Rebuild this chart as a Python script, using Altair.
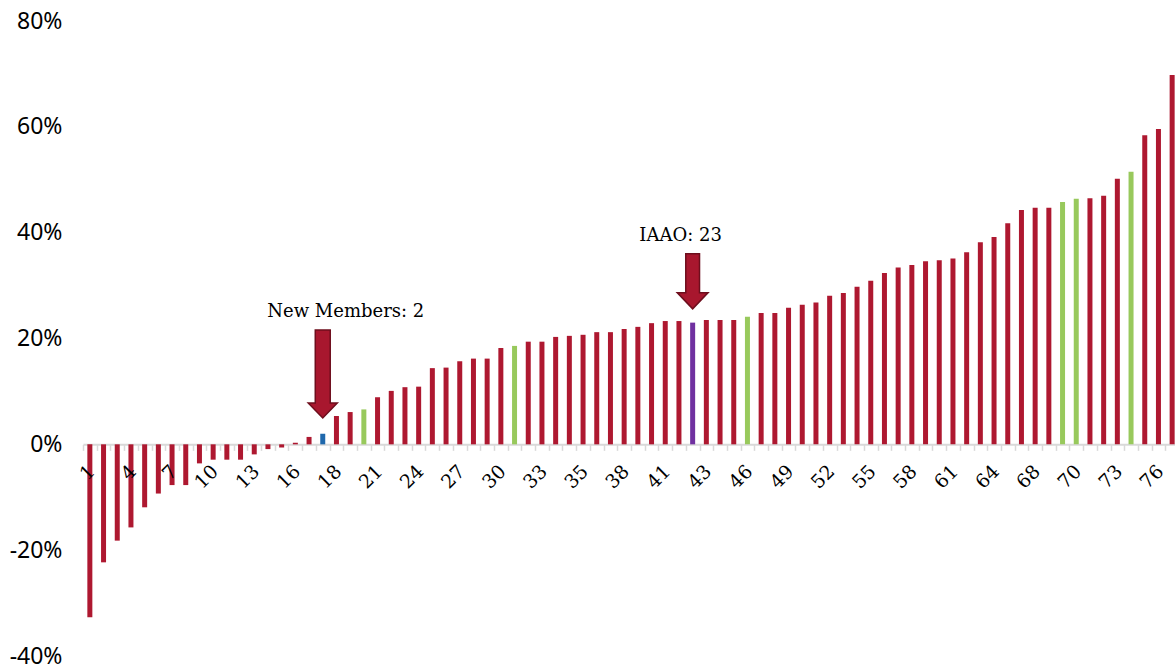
import altair as alt
import pandas as pd

# Percentage change per entity, sorted ascending (one bar per entity)
VALUES = [
    -32.7, -22.3, -18.2, -15.7, -11.9, -9.3, -7.7, -7.7, -3.6, -2.9,
    -2.9, -2.9, -1.9, -0.9, -0.6, 0.3, 1.4, 2.0, 5.35, 6.1,
    6.6, 8.9, 10.1, 10.8, 10.9, 14.4, 14.5, 15.7, 16.2, 16.2,
    18.2, 18.6, 19.4, 19.4, 20.3, 20.5, 20.7, 21.2, 21.2, 21.8,
    22.2, 22.9, 23.3, 23.3, 23.0, 23.5, 23.5, 23.5, 24.1, 24.8,
    24.8, 25.8, 26.4, 26.8, 28.1, 28.6, 29.8, 30.9, 32.4, 33.4,
    33.9, 34.6, 34.8, 35.1, 36.3, 38.2, 39.2, 41.8, 44.3, 44.7,
    44.7, 45.8, 46.4, 46.5, 47.0, 50.2, 51.5, 58.4, 59.6, 69.8,
]

# Rank labels shown on every third category
TICK_LABELS = ["1", "4", "7", "10", "13", "16", "18", "21", "24", "27",
               "30", "33", "35", "38", "41", "43", "46", "49", "52", "55",
               "58", "61", "64", "68", "70", "73", "76"]

# Highlighted bars (1-based positions)
GREEN_BARS = [21, 32, 49, 72, 73, 77]
NEW_MEMBER_BARS = [18]
IAAO_BARS = [45]

# Call-outs: text, bar position, text height and arrow centre (in % units)
ANNOT_TEXT = ["New Members: 2", "IAAO: 23"]
ANNOT_BAR = [18, 45]
ANNOT_TEXT_Y = [25.0, 39.4]
ANNOT_ARROW_Y = [13.3, 30.8]

Y_TICKS = [-40, -20, 0, 20, 40, 60, 80]

groups = []
for i in range(1, len(VALUES) + 1):
    if i in NEW_MEMBER_BARS:
        groups.append("new")
    elif i in IAAO_BARS:
        groups.append("iaao")
    elif i in GREEN_BARS:
        groups.append("green")
    else:
        groups.append("member")

df = pd.DataFrame({"idx": list(range(1, len(VALUES) + 1)), "value": VALUES, "group": groups})

# category labels sit under every third bar
labels_df = pd.DataFrame({
    "idx": [1 + 3 * k for k in range(len(TICK_LABELS))],
    "zero": [0] * len(TICK_LABELS),
    "label": TICK_LABELS,
})

N = len(VALUES)
BAND = 13.7
PLOT_W = 1092
PLOT_H = 635
Y_MIN, Y_MAX = -40, 80
# distance from the bottom of the plot up to the zero line
zero_from_bottom = PLOT_H * (0 - Y_MIN) / (Y_MAX - Y_MIN)

x_scale = alt.Scale(domain=list(range(1, N + 1)), range=[0, N * BAND],
                    paddingInner=0, paddingOuter=0)
y_scale = alt.Scale(domain=[Y_MIN, Y_MAX], nice=False, zero=False)

x_axis = alt.Axis(
    title=None, grid=False, offset=-zero_from_bottom, labels=False,
    domainColor="#D9D9D9", domainWidth=2,
    tickColor="#D9D9D9", tickWidth=1.5, tickSize=6, tickBand="extent",
)
y_axis = alt.Axis(
    title=None, values=Y_TICKS, domain=False, ticks=False, grid=False,
    labelFont="Noto Sans", labelFontSize=23, labelColor="#000000",
    labelPadding=21,
    labelExpr="(datum.value < 0 ? '-' : '') + abs(datum.value) + '%'",
)

color_scale = alt.Scale(
    domain=["member", "green", "new", "iaao"],
    range=["#AE1830", "#98C95C", "#1F68AC", "#7030A0"],
)

bars = alt.Chart(df).mark_bar(size=5).encode(
    x=alt.X("idx:O", scale=x_scale, axis=x_axis, sort=None),
    y=alt.Y("value:Q", scale=y_scale, axis=y_axis),
    color=alt.Color("group:N", scale=color_scale, legend=None),
)

# slanted category labels hanging below the zero line
cat_labels = alt.Chart(labels_df).mark_text(
    angle=315, align="right", baseline="middle",
    font="DejaVu Serif", fontSize=19, color="#000000",
    yOffset=24, xOffset=2,
).encode(x=alt.X("idx:O"), y=alt.Y("zero:Q"), text="label:N")

# Down-pointing block arrows (custom symbol paths in the [-1, 1] box)
ARROW_PATHS = [
    "M-0.17,-1L0.17,-1L0.17,0.66L0.33,0.66L0,1L-0.33,0.66L-0.17,0.66Z",
    "M-0.25,-1L0.25,-1L0.25,0.41L0.56,0.41L0,1L-0.56,0.41L-0.25,0.41Z",
]
ARROW_SIZES = [88 ** 2, 55 ** 2]
TEXT_DX = [23, -12]

layers = [bars, cat_labels]
for k in range(len(ANNOT_TEXT)):
    row = pd.DataFrame({"idx": [ANNOT_BAR[k]], "ay": [ANNOT_ARROW_Y[k]],
                        "ty": [ANNOT_TEXT_Y[k]], "text": [ANNOT_TEXT[k]]})
    arrow = alt.Chart(row).mark_point(
        shape=ARROW_PATHS[k], size=ARROW_SIZES[k], filled=True,
        fill="#A8172E", fillOpacity=1, stroke="#6E0E1D", strokeWidth=1.5,
    ).encode(x=alt.X("idx:O"), y=alt.Y("ay:Q"))
    label = alt.Chart(row).mark_text(
        font="DejaVu Serif", fontSize=18, color="#000000",
        align="center", baseline="middle", dx=TEXT_DX[k],
    ).encode(x=alt.X("idx:O"), y=alt.Y("ty:Q"), text="text:N")
    layers += [arrow, label]

chart = alt.layer(*layers).properties(
    width=PLOT_W, height=PLOT_H,
    autosize=alt.AutoSizeParams(type="none"),
    padding={"left": 83, "top": 21, "right": 0, "bottom": 10},
    background="white",
).configure_view(stroke=None)

chart.save("out.html", embed_options={"renderer": "svg", "actions": False})
